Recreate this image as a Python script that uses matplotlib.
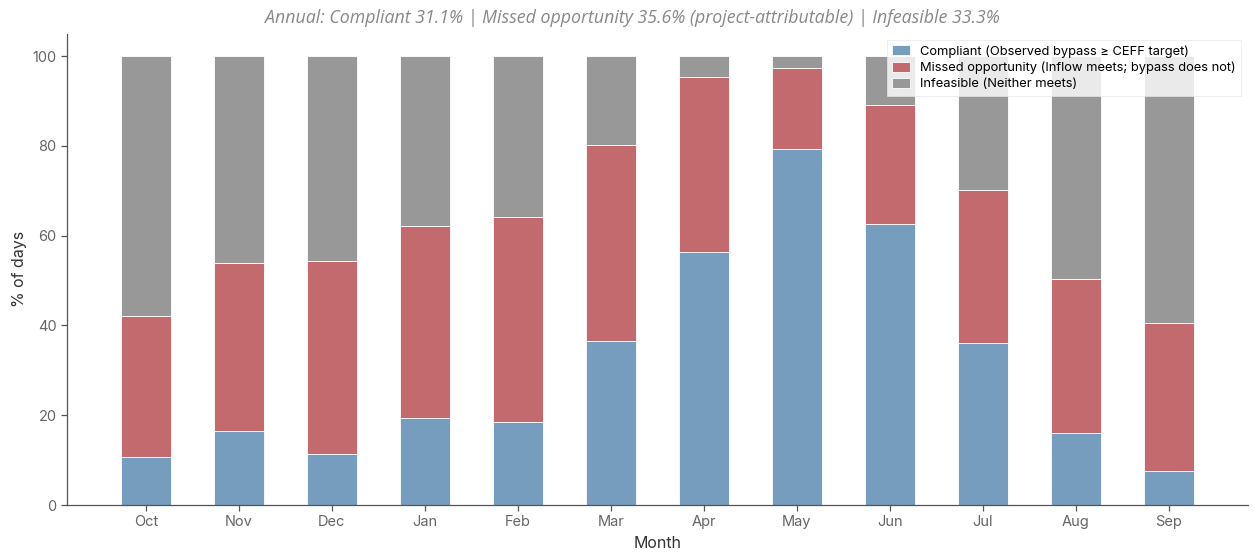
import matplotlib
matplotlib.use("Agg")
import matplotlib.pyplot as plt
import numpy as np

# Monthly share of days per compliance class (water year order)
months = ["Oct", "Nov", "Dec", "Jan", "Feb", "Mar", "Apr", "May", "Jun", "Jul", "Aug", "Sep"]
compliant = [10.8, 16.6, 11.3, 19.5, 18.4, 36.6, 56.4, 79.4, 62.5, 36.0, 16.0, 7.6]
missed = [31.4, 37.4, 43.0, 42.7, 45.7, 43.7, 39.0, 17.9, 26.7, 34.1, 34.3, 32.9]
infeasible = [57.8, 46.0, 45.7, 37.8, 35.9, 19.7, 4.6, 2.7, 10.8, 29.9, 49.7, 59.5]

annual_compliant = 31.1
annual_missed = 35.6
annual_infeasible = 33.3

labels = [
    "Compliant (Observed bypass \u2265 CEFF target)",
    "Missed opportunity (Inflow meets; bypass does not)",
    "Infeasible (Neither meets)",
]
colors = ["#769CBE", "#C26A6D", "#989898"]

plt.rcParams["font.family"] = ["Inter", "DejaVu Sans"]

fig = plt.figure(figsize=(12.54, 5.52), dpi=100)
ax = fig.add_axes([0.0535, 0.085, 0.9415, 0.854])

x = np.arange(len(months))
width = 0.54
bottom = np.zeros(len(months))
for vals, lab, col in zip([compliant, missed, infeasible], labels, colors):
    ax.bar(x, vals, width, bottom=bottom, color=col, edgecolor="white",
           linewidth=0.6, label=lab)
    bottom = bottom + np.array(vals)

ax.set_xticks(x)
ax.set_xticklabels(months)
ax.set_yticks([0, 20, 40, 60, 80, 100])
ax.set_ylim(0, 105)

for side in ["top", "right"]:
    ax.spines[side].set_visible(False)
for side in ["left", "bottom"]:
    ax.spines[side].set_color("#555555")
    ax.spines[side].set_linewidth(0.9)
ax.tick_params(axis="both", colors="#555555", labelcolor="#666666",
               labelsize=10.5, length=4, width=0.9)

ax.set_xlabel("Month", fontsize=11.5, color="#333333", labelpad=5)
ax.set_ylabel("% of days", fontsize=11.5, color="#333333", labelpad=4)

leg = ax.legend(loc="upper right", fontsize=9.3, frameon=True, framealpha=0.8,
                edgecolor="#e6e6e6", fancybox=False, borderpad=0.4,
                labelspacing=0.3, handlelength=1.4, handleheight=0.8,
                handletextpad=0.8, bbox_to_anchor=(1.0, 1.0))
leg.get_frame().set_linewidth(0.6)

title = (f"Annual: Compliant {annual_compliant:.1f}% | "
         f"Missed opportunity {annual_missed:.1f}% (project-attributable) | "
         f"Infeasible {annual_infeasible:.1f}%")
fig.text(0.504, 0.967, title, ha="center", va="center", fontsize=12.8,
         style="italic", color="#888888",
         family=["Open Sans", "DejaVu Sans"])

fig.savefig("out.png", dpi=100)
